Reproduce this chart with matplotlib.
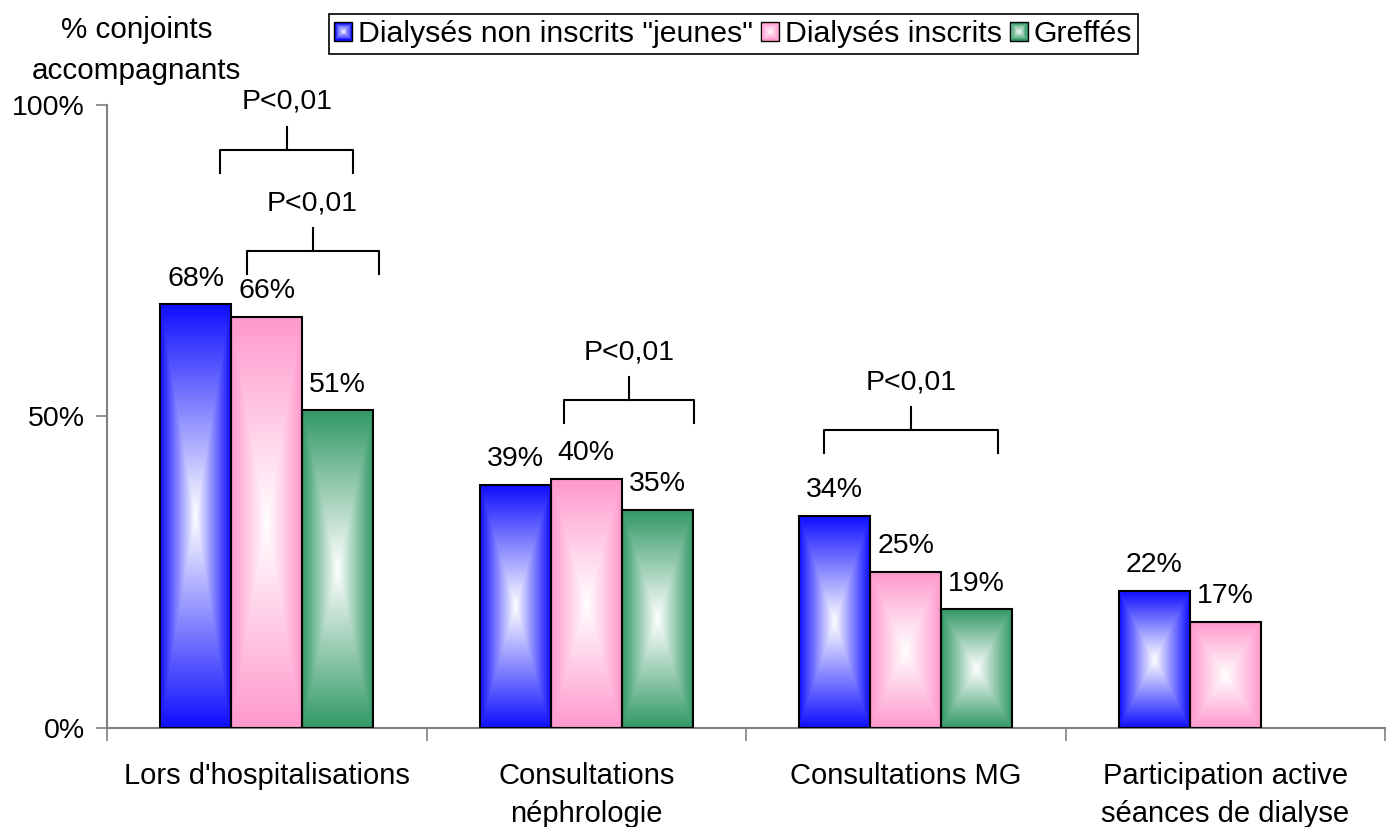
import numpy as np
import matplotlib.pyplot as plt
from matplotlib.colors import to_rgb
from matplotlib.patches import Rectangle
from matplotlib.legend_handler import HandlerBase

plt.rcParams['font.family'] = ['Liberation Sans', 'DejaVu Sans']

categories = ["Lors d'hospitalisations", "Consultations\nnéphrologie",
              "Consultations MG", "Participation active\nséances de dialyse"]
series = ['Dialysés non inscrits "jeunes"', "Dialysés inscrits", "Greffés"]
non_inscrits = [68, 39, 34, 22]
inscrits = [66, 40, 25, 17]
greffes = [51, 35, 19, np.nan]
colors = ["#1010ff", "#ff99cc", "#339966"]

# significance brackets: (category, left offset, right offset, level %)
brackets = [(0, -0.145, 0.27, 92.9),
            (0, -0.063, 0.35, 76.6),
            (1, -0.069, 0.338, 52.6),
            (2, -0.256, 0.29, 47.8)]
p_text = "P<0,01"


def gradient(color, n=120):
    u = np.linspace(-1, 1, n)
    t = np.maximum(np.abs(u)[None, :], np.abs(u)[:, None])[..., None]
    c = np.array(to_rgb(color))
    return 1 - (1 - c) * t


class GradientHandler(HandlerBase):
    def create_artists(self, legend, orig_handle, xdescent, ydescent,
                       width, height, fontsize, trans):
        c = np.array(to_rgb(orig_handle.get_facecolor()))
        s = height
        x0 = -xdescent + (width - s) / 2
        y0 = -ydescent
        arts = []
        n = 7
        for k in range(n):
            f = 1 - k / n
            col = 1 - (1 - c) * f
            w = s * f
            r = Rectangle((x0 + (s - w) / 2, y0 + (s - w) / 2), w, w,
                          facecolor=col, edgecolor='black' if k == 0 else 'none',
                          lw=1.0 if k == 0 else 0, transform=trans)
            arts.append(r)
        return arts


fig = plt.figure(figsize=(13.93, 8.27), dpi=100)
ax = fig.add_axes([0.0768, 0.1203, 0.9175, 0.7523])

x = np.arange(len(categories))
width = 0.222
values = [non_inscrits, inscrits, greffes]
for i, (vals, col) in enumerate(zip(values, colors)):
    vals = np.array(vals, dtype=float)
    ok = ~np.isnan(vals)
    pos = x[ok] + (i - 1) * width
    bars = ax.bar(pos, vals[ok], width, facecolor='none',
                  edgecolor='black', lw=1.5, zorder=3)
    for b, v in zip(bars, vals[ok]):
        im = ax.imshow(gradient(col), extent=(b.get_x(), b.get_x() + b.get_width(), 0, v),
                       aspect='auto', zorder=2, interpolation='bilinear')
        im.set_clip_path(b)
        ax.annotate(f"{v:.0f}%", (b.get_x() + b.get_width() / 2, v),
                    xytext=(0, 9), textcoords='offset points',
                    ha='center', va='bottom', fontsize=20.5)

for cat, a, b, lvl in brackets:
    xa, xb = cat + a, cat + b
    xm = (xa + xb) / 2
    ax.plot([xa, xa, xb, xb], [lvl - 3.7, lvl, lvl, lvl - 3.7], color='black',
            lw=1.5, clip_on=False, zorder=4)
    ax.plot([xm, xm], [lvl, lvl + 3.7], color='black', lw=1.5, clip_on=False, zorder=4)
    ax.text(xm, lvl + 7.7, p_text, ha='center', va='center', fontsize=20.5)

ax.set_xlim(-0.5, len(categories) - 0.5)
ax.set_ylim(0, 100)
ax.set_yticks([0, 50, 100])
ax.set_yticklabels(["0%", "50%", "100%"])
ax.set_xticks(x)
ax.set_xticklabels(categories, linespacing=1.45)
ax.set_xticks(np.arange(len(categories) + 1) - 0.5, minor=True)
ax.tick_params(axis='x', which='major', length=0, pad=25, labelsize=21)
ax.tick_params(axis='x', which='minor', length=9, width=1.2, color='#808080', direction='out')
ax.tick_params(axis='y', length=8, width=1.2, color='#808080', pad=8, labelsize=20.5)
for side in ['top', 'right']:
    ax.spines[side].set_visible(False)
for side in ['left', 'bottom']:
    ax.spines[side].set_color('#808080')
    ax.spines[side].set_linewidth(1.5)

fig.text(0.0983, 0.939, "% conjoints\naccompagnants", ha='center', va='center',
         fontsize=21.3, linespacing=1.6)

handles = [Rectangle((0, 0), 1, 1, facecolor=c) for c in colors]
leg = fig.legend(handles, series, loc='upper center', bbox_to_anchor=(0.5265, 0.983),
                 ncol=3, fontsize=21.8, frameon=True, fancybox=False,
                 edgecolor='black', framealpha=1, borderpad=0.2,
                 handlelength=0.55, handleheight=0.55, handletextpad=0.2,
                 columnspacing=0.3, borderaxespad=0,
                 handler_map={Rectangle: GradientHandler()})
leg.get_frame().set_linewidth(1.2)

fig.savefig("out.png", dpi=100)
